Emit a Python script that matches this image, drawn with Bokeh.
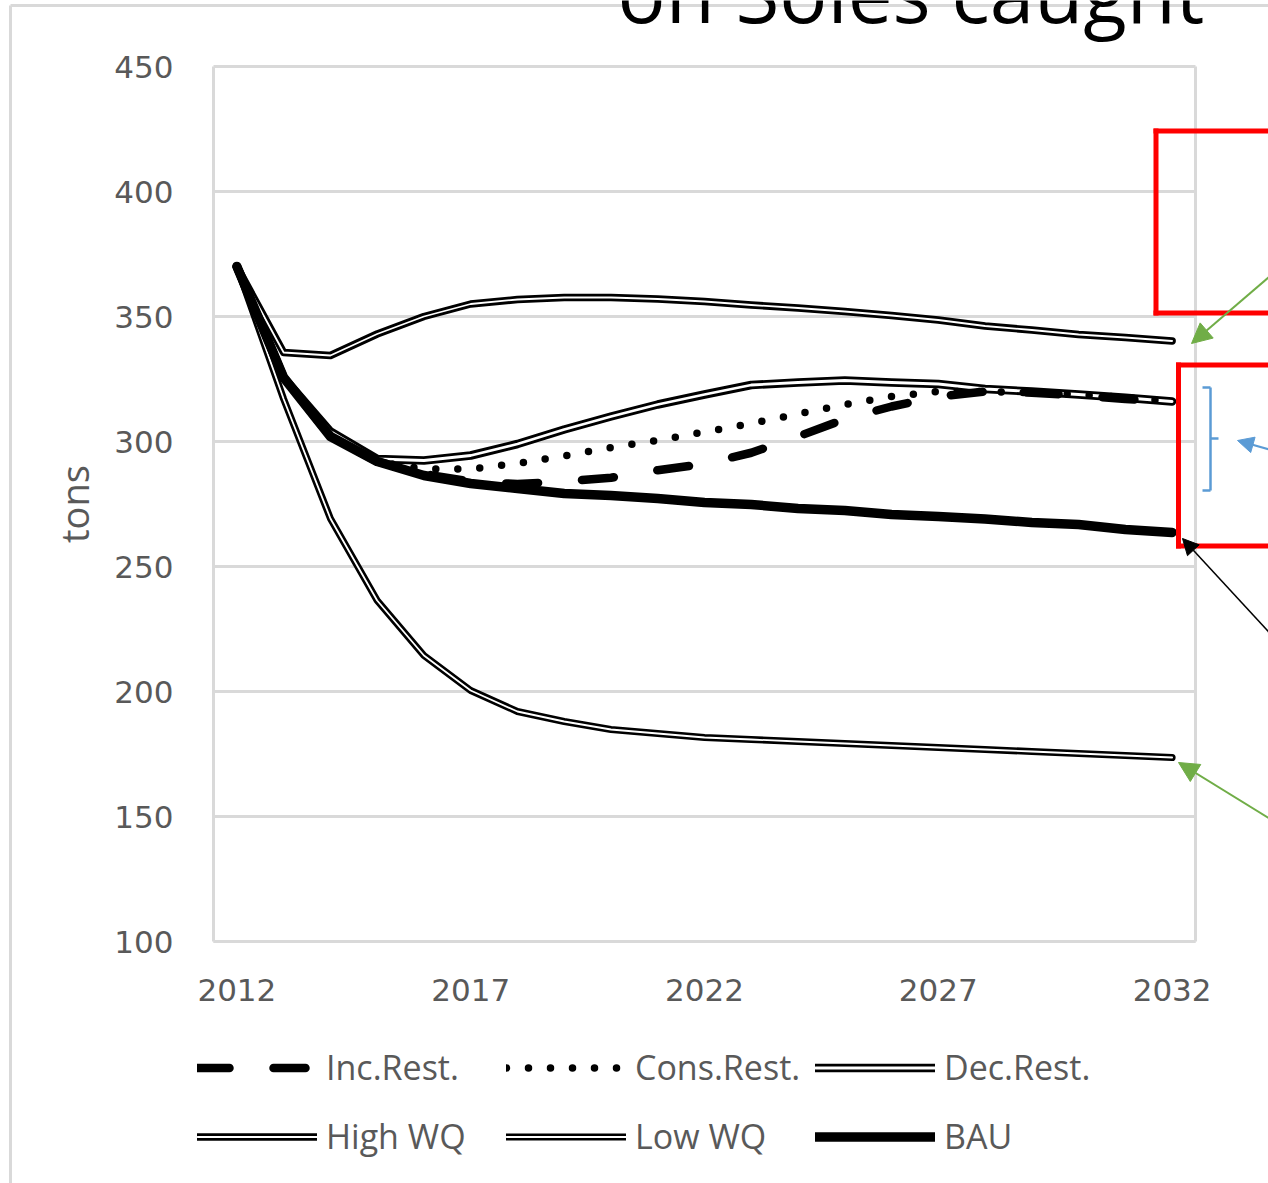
from bokeh.plotting import figure
from bokeh.models import Legend, LegendItem, Label, Arrow, NormalHead, FixedTicker, Range1d
from bokeh.embed import file_html
from bokeh.resources import INLINE

# ---------------- data ----------------
years = list(range(2012, 2033))
inc_rest  = [370, 325.6, 302, 292, 287, 284, 283, 284, 285.5, 288.5, 291, 295.5, 302, 309, 314, 318, 320, 319.5, 318.5, 317, 316]
cons_rest = [370, 325.6, 302, 292, 289, 289, 291.2, 294.2, 297.6, 300.5, 303.8, 307.2, 311, 314.8, 318, 320, 320, 319.5, 318.8, 317.6, 316]
dec_rest  = [370, 325.6, 304, 293, 292.4, 294.4, 299, 304.8, 310, 314.8, 318.8, 322.6, 323.6, 324.4, 323.6, 323, 321, 320, 318.8, 317.5, 316]
high_wq   = [370, 335.6, 334.4, 343, 350, 355, 356.8, 357.6, 357.6, 357, 356, 354.6, 353.4, 352, 350.4, 348.6, 346.2, 344.6, 342.8, 341.6, 340.2]
low_wq    = [370, 317, 269.2, 236.4, 214.4, 200.4, 192, 188, 184.8, 183.2, 181.6, 180.8, 180, 179.2, 178.4, 177.6, 176.8, 176, 175.2, 174.4, 173.6]
bau       = [370, 325.6, 302, 292, 286.4, 283.2, 281.2, 279.2, 278.4, 277.2, 275.6, 274.8, 273.2, 272.4, 270.8, 270, 269, 267.6, 266.8, 264.8, 263.6]
x_ticks = [2012, 2017, 2022, 2027, 2032]
y_ticks = [100, 150, 200, 250, 300, 350, 400, 450]
x_axis_span = (2011.5, 2032.5)
y_axis_span = (100, 450)
title_text = "on Soles caught"
y_label = "tons"

GRAY = "#d9d9d9"
TXT = "#595959"
RED = "#ff0000"
GREEN = "#70ad47"
BLUE = "#5b9bd5"

W, H = 1268, 1183
FRAME_L, FRAME_B = 213, 941          # page pixels of the plot-area left edge / bottom edge
PX_PER_YEAR = 982.0 / 21
PX_PER_TON = 875.0 / 350

x_start = x_axis_span[0] - FRAME_L / PX_PER_YEAR
x_end = x_axis_span[0] + (W - FRAME_L) / PX_PER_YEAR
y_start = y_axis_span[0] - (H - FRAME_B) / PX_PER_TON
y_end = y_axis_span[0] + FRAME_B / PX_PER_TON

p = figure(width=W, height=H, output_backend="svg", toolbar_location=None,
           title_location=None,
           x_range=Range1d(x_start, x_end), y_range=Range1d(y_start, y_end),
           min_border=0)
p.background_fill_color = "white"
p.border_fill_color = "white"
p.outline_line_color = None

# axes drawn at the plot-area edges
p.xaxis.fixed_location = y_axis_span[0]
p.yaxis.fixed_location = x_axis_span[0]
p.xaxis.ticker = FixedTicker(ticks=x_ticks)
p.yaxis.ticker = FixedTicker(ticks=y_ticks)
p.xaxis.bounds = x_axis_span
p.yaxis.bounds = y_axis_span
p.xgrid.visible = False
p.ygrid.grid_line_color = GRAY
p.ygrid.grid_line_width = 3
p.ygrid.cross_bounds = x_axis_span
p.axis.axis_line_color = GRAY
p.axis.axis_line_width = 3
p.axis.major_tick_line_color = None
p.axis.minor_tick_line_color = None
p.axis.major_tick_out = 0
p.axis.major_tick_in = 0
p.axis.minor_tick_out = 0
p.axis.major_label_text_font = "DejaVu Sans"
p.axis.major_label_text_font_size = "31px"
p.axis.major_label_text_color = TXT
p.xaxis.major_label_standoff = 37
p.yaxis.major_label_standoff = 40
p.yaxis.axis_label = y_label
p.yaxis.axis_label_text_font = "Open Sans"
p.yaxis.axis_label_text_font_size = "38px"
p.yaxis.axis_label_text_font_style = "normal"
p.yaxis.axis_label_text_color = TXT
p.yaxis.axis_label_standoff = 11

# right border of the plot area
p.segment(x0=[x_axis_span[1]], y0=[y_axis_span[0]], x1=[x_axis_span[1]], y1=[y_axis_span[1]],
          line_color=GRAY, line_width=3)

common = dict(line_join="round", line_cap="round")
r_dec_b = p.line(years, dec_rest, line_color="black", line_width=8.5, **common)
r_dec_w = p.line(years, dec_rest, line_color="white", line_width=2.8, **common)
r_hi_b = p.line(years, high_wq, line_color="black", line_width=7.5, **common)
r_hi_w = p.line(years, high_wq, line_color="white", line_width=1.8, **common)
r_lo_b = p.line(years, low_wq, line_color="black", line_width=7, **common)
r_lo_w = p.line(years, low_wq, line_color="white", line_width=1.8, **common)
r_inc = p.line(years, inc_rest, line_color="black", line_width=8.5, line_dash="32 44", **common)
r_cons = p.line(years, cons_rest, line_color="black", line_width=7.5, line_dash="0 22", **common)
r_bau = p.line(years, bau, line_color="black", line_width=9.5, **common)

# page pixel -> data coordinate helpers (for the annotations)
def dx(px):
    return x_axis_span[0] + (px - FRAME_L) / PX_PER_YEAR

def dy(py):
    return y_axis_span[0] + (FRAME_B - py) / PX_PER_TON

def seg(x0, y0, x1, y1, color, width, cap="square", head=None):
    a = Arrow(x_start=dx(x0), y_start=dy(y0), x_end=dx(x1), y_end=dy(y1),
              line_color=color, line_width=width, line_cap=cap, end=head)
    p.add_layout(a)

# slide frame (top and left edge)
seg(10, 5, 10, 1200, GRAY, 3, cap="butt")
seg(10, 5, 1290, 5, GRAY, 3, cap="butt")

# title (cut off at the top of the slide, as in the original)
p.add_layout(Label(x=dx(617), y=dy(-9), text=title_text, text_font="Open Sans",
                   text_font_size="80px", text_color="black", text_baseline="alphabetic",
                   text_align="left"))

# red boxes
for (l, t, b) in [(1155.5, 130.5, 312.5), (1178, 364.5, 545.5)]:
    seg(l, t, 1290, t, RED, 5)
    seg(l, b, 1290, b, RED, 5)
    seg(l, t, l, b, RED, 5)

# blue bracket
seg(1202, 387, 1210, 387, BLUE, 2.5, cap="butt")
seg(1210, 387, 1210, 490, BLUE, 2.5, cap="butt")
seg(1202, 490, 1210, 490, BLUE, 2.5, cap="butt")
seg(1210, 438, 1218, 438, BLUE, 2.5, cap="butt")

# arrows
seg(1290, 258, 1191, 343, GREEN, 2, cap="butt",
    head=NormalHead(size=20, fill_color=GREEN, line_color=GREEN))
seg(1290, 831, 1178, 762, GREEN, 2, cap="butt",
    head=NormalHead(size=20, fill_color=GREEN, line_color=GREEN))
seg(1290, 455, 1237, 440, BLUE, 2, cap="butt",
    head=NormalHead(size=16, fill_color=BLUE, line_color=BLUE))
seg(1290, 655, 1182, 538, "black", 1.5, cap="butt",
    head=NormalHead(size=16, fill_color="black", line_color="black"))

# legend: 2 rows x 3 columns below the x axis
items = [("Inc.Rest.", [r_inc]), ("Cons.Rest.", [r_cons]), ("Dec.Rest.", [r_dec_b, r_dec_w]),
         ("High WQ", [r_hi_b, r_hi_w]), ("Low WQ", [r_lo_b, r_lo_w]), ("BAU", [r_bau])]
lg = Legend(items=[LegendItem(label=n, renderers=rs) for n, rs in items],
            orientation="horizontal", ncols=3,
            location=(197, H - 1165.5),
            glyph_width=120, glyph_height=59, label_height=59, label_width=170,
            label_standoff=9, spacing=10,
            padding=0, margin=0, border_line_color=None, background_fill_alpha=0,
            label_text_font="Open Sans", label_text_font_size="34px",
            label_text_color=TXT)
p.add_layout(lg, "center")

open("out.html", "w").write(file_html(p, INLINE))
